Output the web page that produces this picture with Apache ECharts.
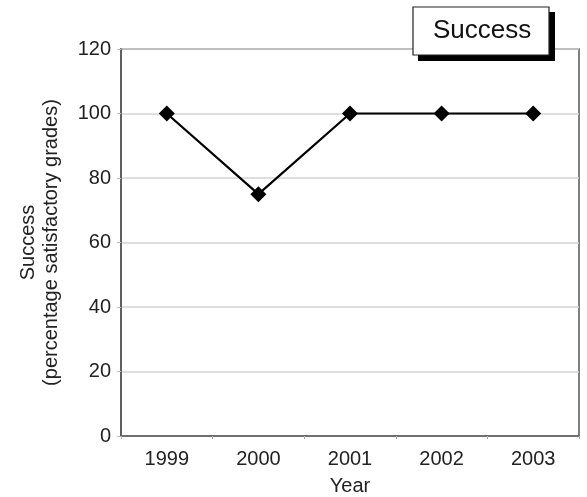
<!DOCTYPE html>
<html><head><meta charset="utf-8">
<script src="https://cdn.jsdelivr.net/npm/echarts@6/dist/echarts.min.js"></script>
<style>html,body{margin:0;padding:0;background:#fff}#c{width:587px;height:497px}</style>
</head><body><div id="c"></div>
<script>
const categories = ['1999', '2000', '2001', '2002', '2003'];
const successValues = [100, 75, 100, 100, 100];
const seriesName = 'Success';
const yTicks = [0, 20, 40, 60, 80, 100, 120];

const chart = echarts.init(document.getElementById('c'));
const font = 'Liberation Sans, Arial, sans-serif';
chart.setOption({
  animation: false,
  backgroundColor: '#fff',
  textStyle: { fontFamily: font },
  grid: { left: 121, top: 49, right: 8, bottom: 61, show: true, borderColor: '#555', borderWidth: 1.5, backgroundColor: 'transparent', containLabel: false, outerBoundsMode: 'none' },
  graphic: [
    { type: 'rect', z: 20, shape: { x: 418, y: 12, width: 137, height: 49 }, style: { fill: '#000' } },
    { type: 'rect', z: 21, shape: { x: 413, y: 7, width: 136, height: 48 }, style: { fill: '#fff', stroke: '#222', lineWidth: 1.2 } }
  ],
  legend: {
    data: [seriesName],
    left: 428, top: 18, z: 30,
    itemWidth: 0, itemHeight: 0, itemGap: 0,
    padding: 0,
    icon: 'rect',
    textStyle: { fontSize: 26, color: '#111', fontFamily: font }
  },
  xAxis: {
    type: 'category', data: categories, boundaryGap: true,
    name: 'Year', nameLocation: 'middle', nameGap: 40,
    nameTextStyle: { fontSize: 20, color: '#222' },
    axisLine: { lineStyle: { color: '#555', width: 1.5 } },
    axisTick: { show: true, length: 3, inside: false, lineStyle: { color: '#aaa' } },
    axisLabel: { fontSize: 20, color: '#222', margin: 13 },
    splitLine: { show: false }
  },
  yAxis: {
    type: 'value', min: yTicks[0], max: yTicks[yTicks.length - 1], interval: 20,
    name: 'Success\n(percentage satisfactory grades)', nameLocation: 'middle', nameGap: 58,
    nameRotate: 90,
    nameTextStyle: { fontSize: 20, color: '#222', lineHeight: 23 },
    axisLine: { show: true, lineStyle: { color: '#555', width: 1.5 } },
    axisTick: { show: true, length: 4, lineStyle: { color: '#bbb' } },
    axisLabel: { fontSize: 20, color: '#222', margin: 10 },
    splitLine: { show: true, lineStyle: { color: '#d4d4d4', width: 1.5 } }
  },
  series: [{
    name: seriesName, type: 'line', data: successValues,
    symbol: 'diamond', symbolSize: 16,
    lineStyle: { color: '#000', width: 2.2 },
    itemStyle: { color: '#000' }
  }]
});
</script></body></html>
